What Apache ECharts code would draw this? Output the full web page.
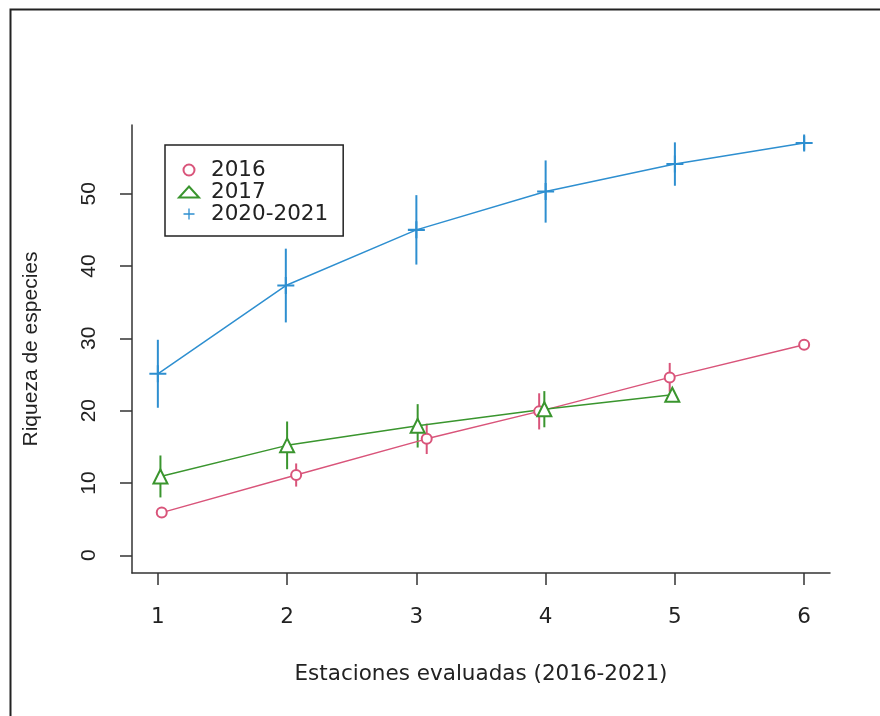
<!DOCTYPE html>
<html>
<head>
<meta charset="utf-8">
<script src="https://cdn.jsdelivr.net/npm/echarts@6/dist/echarts.min.js"></script>
<style>
html,body{margin:0;padding:0;background:#fff;}
#chart{width:880px;height:716px;}
</style>
</head>
<body>
<div id="chart"></div>
<script>
// Data
const seriesNames = ['2016', '2017', '2020-2021'];
const xTicks = [1, 2, 3, 4, 5, 6];
const yTicks = [0, 10, 20, 30, 40, 50];

const x2016 = [1.03, 2.07, 3.08, 3.95, 4.96, 6.0];
const y2016 = [5.9, 11.1, 16.1, 19.9, 24.6, 29.1];
const e2016 = [0, 1.6, 2.1, 2.5, 2.0, 0];

const x2017 = [1.02, 2.0, 3.01, 3.99, 4.98];
const y2017 = [10.9, 15.2, 17.9, 20.2, 22.2];
const e2017 = [2.9, 3.3, 3.0, 2.5, 0];

const x2020 = [1.0, 1.99, 3.0, 4.0, 5.0, 6.0];
const y2020 = [25.1, 37.3, 45.0, 50.3, 54.1, 57.0];
const e2020 = [4.7, 5.1, 4.8, 4.3, 3.0, 1.0];

const colors = ['#d9547a', '#3a952e', '#2e8fd0'];
const plusPath = 'path://M0,4.4H10V5.6H0Z M4.4,0H5.6V10H4.4Z';

function pts(xs, ys) { return xs.map((x, i) => [x, ys[i]]); }
function errPts(xs, ys, es) { return xs.map((x, i) => [x, ys[i], es[i]]); }

function errSeries(name, data, color) {
  return {
    type: 'custom', name: name, data: data, z: 1,
    encode: { x: 0, y: 1 },
    silent: true,
    renderItem: function (params, api) {
      const e = api.value(2);
      if (!e) return null;
      const x = api.value(0), y = api.value(1);
      const p1 = api.coord([x, y - e]);
      const p2 = api.coord([x, y + e]);
      return {
        type: 'line',
        shape: { x1: p1[0], y1: p1[1], x2: p2[0], y2: p2[1] },
        style: { stroke: color, lineWidth: 2 }
      };
    }
  };
}

const hFont = 'DejaVu Sans';
const vFont = 'Liberation Sans';
const axisColor = '#333';

const chart = echarts.init(document.getElementById('chart'), null, { renderer: 'canvas' });
chart.setOption({
  animation: false,
  backgroundColor: '#fff',
  graphic: [{
    type: 'rect', left: 8, top: 7,
    shape: { width: 900, height: 800 },
    style: { fill: 'none', stroke: '#222', lineWidth: 2 }
  }],
  grid: { left: 132, right: 50, top: 125, bottom: 143, outerBoundsMode: 'none', containLabel: false },
  legend: {
    orient: 'vertical',
    left: 165, top: 145,
    padding: [14, 15, 11, 13],
    borderColor: '#222', borderWidth: 1.5,
    itemWidth: 20, itemHeight: 11, itemGap: 0,
    textStyle: { fontFamily: hFont, fontSize: 21.5, color: '#222', lineHeight: 21.7, padding: [0, 0, 0, 7] },
    data: [
      { name: seriesNames[0], icon: 'emptyCircle' },
      { name: seriesNames[1], icon: 'emptyTriangle' },
      { name: seriesNames[2], icon: plusPath }
    ]
  },
  xAxis: {
    type: 'value', min: 0.8, max: 6.2,
    splitLine: { show: false },
    axisLine: { show: true, onZero: false, lineStyle: { color: axisColor, width: 1.5 } },
    axisTick: { show: true, customValues: xTicks, length: 12, lineStyle: { color: axisColor, width: 1.5 } },
    axisLabel: { customValues: xTicks, margin: 33, fontFamily: hFont, fontSize: 21.5, color: '#222' },
    name: 'Estaciones evaluadas (2016-2021)',
    nameLocation: 'middle', nameGap: 90,
    nameTextStyle: { fontFamily: hFont, fontSize: 21.5, color: '#222' }
  },
  yAxis: {
    type: 'value', min: -2.45, max: 59.5,
    splitLine: { show: false },
    axisLine: { show: true, onZero: false, lineStyle: { color: axisColor, width: 1.5 } },
    axisTick: { show: true, customValues: yTicks, length: 12, lineStyle: { color: axisColor, width: 1.5 } },
    axisLabel: { customValues: yTicks, rotate: 90, margin: 32, fontFamily: vFont, fontSize: 21, color: '#222' },
    name: 'Riqueza de especies',
    nameLocation: 'middle', nameRotate: 90, nameGap: 90,
    nameTextStyle: { fontFamily: vFont, fontSize: 21, color: '#222' }
  },
  series: [
    errSeries('e2016', errPts(x2016, y2016, e2016), colors[0]),
    errSeries('e2017', errPts(x2017, y2017, e2017), colors[1]),
    errSeries('e2020', errPts(x2020, y2020, e2020), colors[2]),
    {
      type: 'line', name: seriesNames[0], data: pts(x2016, y2016), z: 3,
      color: colors[0], symbol: 'emptyCircle', symbolSize: 10,
      lineStyle: { color: colors[0], width: 1.5 },
      itemStyle: { color: colors[0], borderWidth: 1.5 }
    },
    {
      type: 'line', name: seriesNames[1], data: pts(x2017, y2017), z: 3,
      color: colors[1], symbol: 'emptyTriangle', symbolSize: 14,
      lineStyle: { color: colors[1], width: 1.5 },
      itemStyle: { color: colors[1], borderWidth: 1.5 }
    },
    {
      type: 'line', name: seriesNames[2], data: pts(x2020, y2020), z: 3,
      color: colors[2], symbol: plusPath, symbolSize: 17,
      lineStyle: { color: colors[2], width: 1.5 },
      itemStyle: { color: colors[2] }
    }
  ]
});
</script>
</body>
</html>
